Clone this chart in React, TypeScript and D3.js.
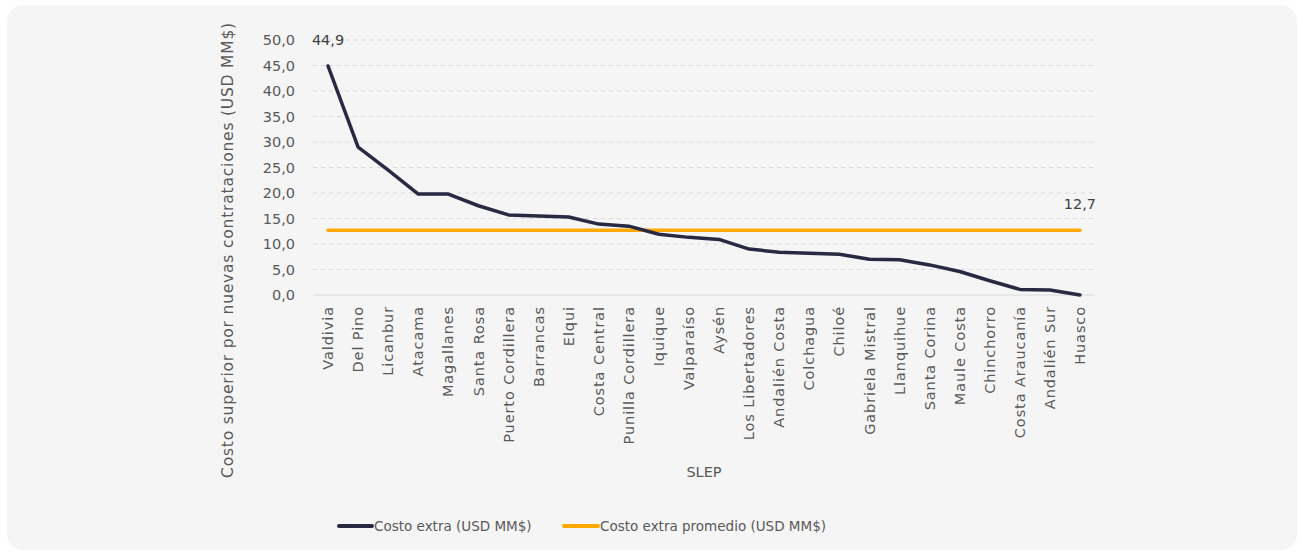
import React from "react";
import * as d3 from "d3";

const categories = ["Valdivia","Del Pino","Licanbur","Atacama","Magallanes","Santa Rosa","Puerto Cordillera","Barrancas","Elqui","Costa Central","Punilla Cordillera","Iquique","Valparaíso","Aysén","Los Libertadores","Andalién Costa","Colchagua","Chiloé","Gabriela Mistral","Llanquihue","Santa Corina","Maule Costa","Chinchorro","Costa Araucanía","Andalién Sur","Huasco"];
const costoExtra = [44.9,29.0,24.5,19.8,19.8,17.5,15.7,15.5,15.3,13.9,13.5,11.9,11.3,10.9,9.0,8.4,8.2,8.0,7.0,6.9,5.9,4.6,2.8,1.1,1.0,0.0];
const promedio = 12.7;
const yTicks = [0,5,10,15,20,25,30,35,40,45,50];
const seriesNames = ["Costo extra (USD MM$)", "Costo extra promedio (USD MM$)"];

const W = 1302, H = 554;
const FONT = "'DejaVu Sans', sans-serif";
const TXT = "#595959";
const DARK = "#272a42";
const ORANGE = "#ffa800";

export default function App() {
  const x = d3.scaleBand<string>().domain(categories).range([313, 1095]);
  const y = d3.scaleLinear().domain([0, 50]).range([295, 40]);
  const cx = (c: string) => (x(c) as number) + x.bandwidth() / 2;
  const fmt = (v: number) => v.toFixed(1).replace(".", ",");
  const line = d3.line<number>().x((_, i) => cx(categories[i])).y(d => y(d));
  const avgLine = d3.line<string>().x(c => cx(c)).y(() => y(promedio));
  const first = categories[0], last = categories[categories.length - 1];
  return (
    <svg width={W} height={H} style={{ position: "absolute", left: 0, top: 0, fontFamily: FONT }}>
      <rect x={0} y={0} width={W} height={H} fill="#ffffff" />
      <rect x={7} y={5} width={1290} height={545} rx={16} fill="#f5f5f5" />
      {yTicks.map(t => (
        <g key={t}>
          {t > 0 && <line x1={313} x2={1095} y1={y(t)} y2={y(t)} stroke="#d9d9d9" strokeDasharray="4,4" strokeWidth={1} />}
          <text x={295} y={y(t)} dy="0.35em" textAnchor="end" fontSize={14.5} fill={TXT}>{fmt(t)}</text>
        </g>
      ))}
      <line x1={313} x2={1095} y1={y(0)} y2={y(0)} stroke="#d9d9d9" strokeWidth={1} />
      {categories.map(c => (
        <text key={c} transform={`translate(${cx(c)},306) rotate(-90)`} dy="0.35em" textAnchor="end" fontSize={14.5} letterSpacing={0.9} fill={TXT}>{c}</text>
      ))}
      <path d={avgLine([first, last]) as string} stroke={ORANGE} strokeWidth={3.5} fill="none" strokeLinecap="round" />
      <path d={line(costoExtra) as string} stroke={DARK} strokeWidth={3.5} fill="none" strokeLinecap="round" strokeLinejoin="round" />
      <text x={cx(first)} y={y(costoExtra[0]) - 21} textAnchor="middle" fontSize={14.5} fill="#404040">{fmt(costoExtra[0])}</text>
      <text x={cx(last)} y={y(promedio) - 21} textAnchor="middle" fontSize={14.5} fill="#404040">{fmt(promedio)}</text>
      <text transform={`translate(228,250) rotate(-90)`} dy="0.35em" textAnchor="middle" fontSize={15.5} letterSpacing={0.8} fill={TXT}>Costo superior por nuevas contrataciones (USD MM$)</text>
      <text x={704} y={472} dy="0.35em" textAnchor="middle" fontSize={14.5} fill={TXT}>SLEP</text>
      <line x1={339} x2={372} y1={526} y2={526} stroke={DARK} strokeWidth={4} strokeLinecap="round" />
      <text x={374} y={526} dy="0.35em" fontSize={13.5} fill={TXT}>{seriesNames[0]}</text>
      <line x1={564} x2={598} y1={526} y2={526} stroke={ORANGE} strokeWidth={4} strokeLinecap="round" />
      <text x={600} y={526} dy="0.35em" fontSize={13.5} fill={TXT}>{seriesNames[1]}</text>
    </svg>
  );
}
